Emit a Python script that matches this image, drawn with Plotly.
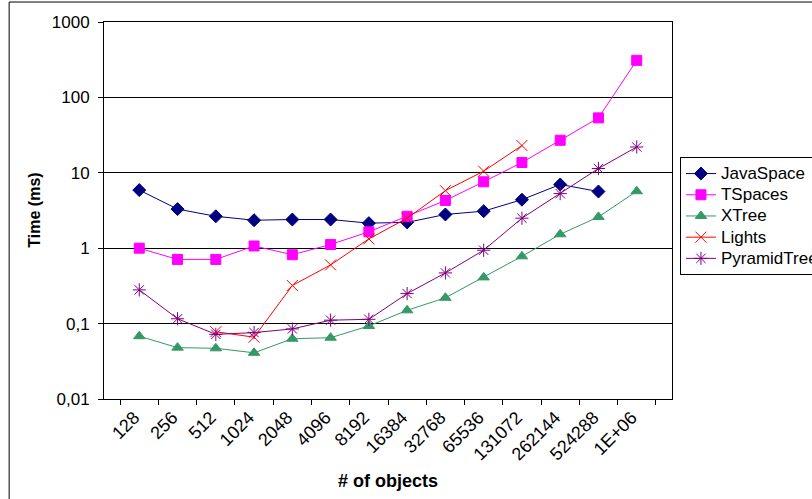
import plotly.graph_objects as go

categories = ["128", "256", "512", "1024", "2048", "4096", "8192", "16384",
              "32768", "65536", "131072", "262144", "524288", "1E+06"]

java_space = [5.9, 3.3, 2.65, 2.35, 2.4, 2.4, 2.15, 2.2, 2.8, 3.1, 4.4, 7.0, 5.65, None]
tspaces = [1.0, 0.71, 0.71, 1.07, 0.82, 1.12, 1.65, 2.65, 4.3, 7.6, 13.7, 27, 53.5, 310]
xtree = [0.068, 0.048, 0.047, 0.041, 0.063, 0.065, 0.093, 0.15, 0.22, 0.41, 0.78, 1.53, 2.6, 5.7]
lights = [None, None, 0.078, 0.066, 0.32, 0.6, 1.33, 2.5, 5.8, 10.5, 23, None, None, None]
pyramid_tree = [0.28, 0.116, 0.072, 0.076, 0.085, 0.111, 0.114, 0.25, 0.47, 0.94, 2.5, 5.3, 11.4, 22]

series_names = ["JavaSpace", "TSpaces", "XTree", "Lights", "PyramidTree"]

y_tick_vals = [0.01, 0.1, 1, 10, 100, 1000]
y_tick_text = ["0,01", "0,1", "1", "10", "100", "1000"]

FONT = "Arial, Liberation Sans, sans-serif"

styles = [
    ("#000080", "diamond", 10),
    ("#FF00FF", "square", 10),
    ("#339966", "triangle-up", 10),
    ("#FF0000", "x-thin-open", 11),
    ("#800080", "asterisk-open", 11),
]
values = [java_space, tspaces, xtree, lights, pyramid_tree]

fig = go.Figure()
for name, vals, (color, sym, size) in zip(series_names, values, styles):
    fig.add_trace(go.Scatter(
        x=categories, y=vals,
        name=f'<span style="font-size:17px">{name}</span>',
        mode="lines+markers",
        line=dict(color=color, width=1),
        marker=dict(symbol=sym, size=size, color=color,
                    line=dict(color=color, width=1)),
        connectgaps=False,
    ))

fig.update_layout(
    width=812, height=499,
    margin=dict(l=104, r=140, t=22, b=100, autoexpand=False),
    paper_bgcolor="white", plot_bgcolor="white",
    font=dict(family=FONT, size=17, color="black"),
    showlegend=True,
    legend=dict(
        x=1.014, y=0.642, xanchor="left", yanchor="top",
        bordercolor="black", borderwidth=1, bgcolor="white",
        font=dict(family=FONT, size=14, color="black"),
        tracegroupgap=0, itemwidth=30,
    ),
    xaxis=dict(
        type="category", tickson="boundaries", ticks="outside", ticklen=5,
        tickcolor="black", tickangle=-45, showline=True, linecolor="black",
        linewidth=1, mirror=True, showgrid=False, automargin=False,
        ticklabelshift=-5,
        tickfont=dict(family=FONT, size=18),
    ),
    yaxis=dict(
        type="log", range=[-2, 3], tickvals=y_tick_vals, ticktext=y_tick_text,
        ticks="outside", ticklen=5, tickcolor="black", showline=True,
        linecolor="black", linewidth=1, mirror=True, showgrid=True,
        gridcolor="black", gridwidth=1, zeroline=False, automargin=False,
        ticklabelstandoff=5,
        tickfont=dict(family=FONT, size=17),
    ),
    shapes=[dict(type="rect", xref="paper", yref="paper",
                 x0=-0.167, y0=-0.5, x1=1.4, y1=1.053,
                 line=dict(color="black", width=1), fillcolor="rgba(0,0,0,0)")],
    annotations=[
        dict(text="<b># of objects</b>", xref="paper", yref="paper",
             x=0.5, y=-0.2175, xanchor="center", yanchor="middle",
             showarrow=False, font=dict(family=FONT, size=18)),
        dict(text="<b>Time (ms)</b>", xref="paper", yref="paper",
             x=-0.123, y=0.5, xanchor="center", yanchor="middle",
             textangle=-90, showarrow=False, font=dict(family=FONT, size=16)),
    ],
)

fig.write_html("out.html", config={"displayModeBar": False},
               post_script="document.body.style.margin='0px';")
